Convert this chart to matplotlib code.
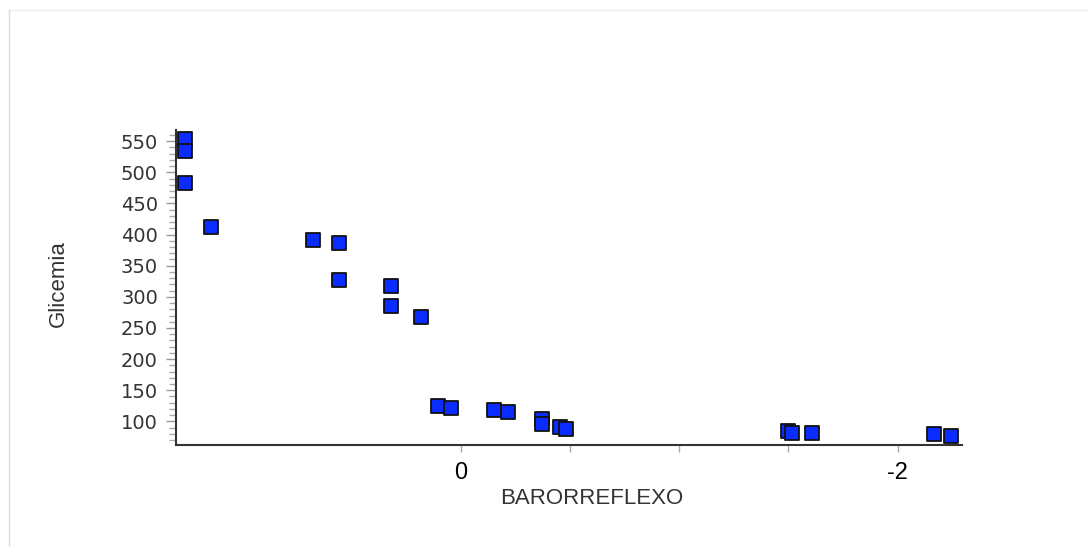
import matplotlib
matplotlib.use("Agg")
import matplotlib.pyplot as plt
from matplotlib.lines import Line2D
from matplotlib.ticker import FixedLocator, MultipleLocator

# BARORREFLEXO vs Glicemia
barorreflexo = [1.262, 1.262, 1.262, 1.143, 0.676, 0.557, 0.557, 0.319, 0.319, 0.182,
                0.102, 0.044, -0.154, -0.219, -0.374, -0.374, -0.454, -0.484,
                -1.497, -1.519, -1.607, -2.168, -2.244]
glicemia = [553, 534, 483, 413, 392, 386, 327, 317, 286, 268,
            125, 121, 119, 115, 104, 95, 91, 88,
            85, 82, 82, 80, 77]

x_ticks = [0, -0.5, -1.0, -1.5, -2.0]
x_ticklabels = ["0", "", "", "", "-2"]
y_ticks = [100, 150, 200, 250, 300, 350, 400, 450, 500, 550]

plt.rcParams["font.family"] = ["Liberation Sans", "DejaVu Sans"]

fig = plt.figure(figsize=(10.89, 5.47), dpi=100)
ax = fig.add_axes([0.1616, 0.1865, 0.7218, 0.5758])

ax.scatter(barorreflexo, glicemia, marker="s", s=105, color="#0a2cff",
           edgecolors="#111111", linewidths=1.3, zorder=3)

# eixo x invertido (positivo à esquerda)
ax.set_xlim(1.302, -2.295)
ax.set_ylim(62, 568)

for side in ("top", "right"):
    ax.spines[side].set_visible(False)
for side in ("left", "bottom"):
    ax.spines[side].set_color("#333333")
    ax.spines[side].set_linewidth(1.5)

ax.xaxis.set_major_locator(FixedLocator(x_ticks))
ax.set_xticklabels(x_ticklabels)
ax.yaxis.set_major_locator(FixedLocator(y_ticks))
ax.yaxis.set_minor_locator(MultipleLocator(10))

ax.tick_params(axis="x", which="major", direction="out", length=5, width=1,
               color="#aaaaaa", labelsize=17, labelcolor="black", pad=7)
ax.tick_params(axis="y", which="major", direction="out", length=7, width=1,
               color="#999999", labelsize=14, labelcolor="#333333", pad=6)
ax.tick_params(axis="y", which="minor", direction="out", length=5, width=1,
               color="#aaaaaa")
for lbl in ax.get_yticklabels():
    lbl.set_family(["DejaVu Sans"])

ax.set_xlabel("BARORREFLEXO", fontsize=16, color="#333333")
ax.xaxis.set_label_coords(0.529, -0.135)
ax.set_ylabel("Glicemia", fontsize=16, color="#333333")
ax.yaxis.set_label_coords(-0.136, 0.511)

# moldura clara do quadro
fig.add_artist(Line2D([9 / 1089, 1], [1 - 10 / 547, 1 - 10 / 547],
                      transform=fig.transFigure, color="#ececec", linewidth=1))
fig.add_artist(Line2D([9 / 1089, 9 / 1089], [0, 1 - 10 / 547],
                      transform=fig.transFigure, color="#dddddd", linewidth=1))

fig.savefig("out.png", dpi=100)
